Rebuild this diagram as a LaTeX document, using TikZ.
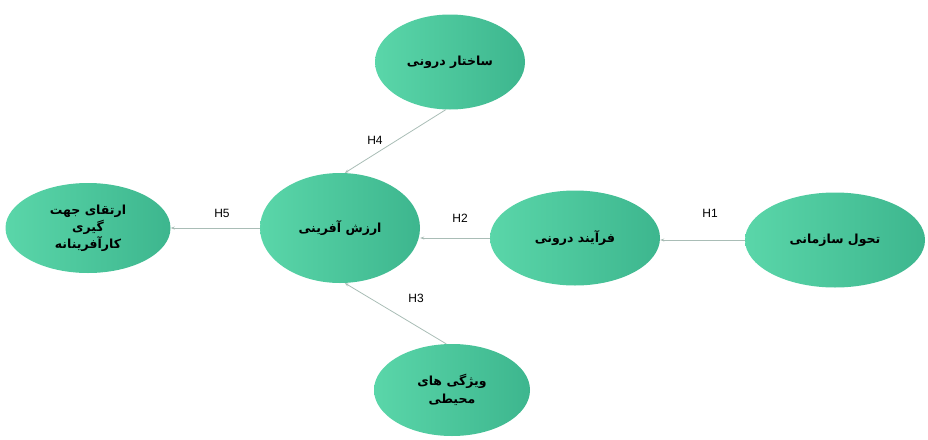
\documentclass[tikz,border=0pt]{standalone}
\usepackage{fontspec}
\TeXXeTstate=1
\newfontfamily\arabicfont[Script=Arabic]{DejaVu Sans}
\setsansfont{Liberation Sans}
\usetikzlibrary{shapes.geometric,arrows.meta}
\definecolor{eleft}{HTML}{5AD6A9}
\definecolor{eright}{HTML}{3DB68E}
\definecolor{lnk}{HTML}{A9BDB6}
\begin{document}
\begin{tikzpicture}[x=1pt,y=-1pt,
  oval/.style={ellipse,left color=eleft,right color=eright,draw=none,inner sep=0pt,
    minimum width=#1,align=center,font=\arabicfont\bfseries\fontsize{12.5}{17}\selectfont},
  link/.style={draw=lnk,line width=0.8pt,-{Stealth[length=4pt,width=3pt]}},
  hlab/.style={font=\sffamily\fontsize{12}{14}\selectfont}]
\useasboundingbox (0,0) rectangle (928,439);
\node[oval=165pt,minimum height=90pt] (goal) at (88,228) {\beginR ارتقای جهت\endR\\\beginR گیری\endR\\\beginR کارآفرینانه\endR};
\node[oval=160pt,minimum height=110pt] (val) at (340,228) {\beginR ارزش آفرینی\endR};
\node[oval=170pt,minimum height=95pt] (proc) at (575,238) {\beginR فرآیند درونی\endR};
\node[oval=180pt,minimum height=95pt] (trans) at (835,240) {\beginR تحول سازمانی\endR};
\node[oval=150pt,minimum height=95pt] (struct) at (450,62) {\beginR ساختار درونی\endR};
\node[oval=156pt,minimum height=92pt] (env) at (452,390) {\beginR ویژگی های\endR\\[1pt]\beginR محیطی\endR};
\draw[link] (val.west) -- (goal.east);
\draw[link] (proc.west) -- (val.east |- proc.west);
\draw[link] (trans.west) -- (proc.east |- trans.west);
\draw[link] (struct.-95) -- (val.85);
\draw[link] (env.97) -- (val.-85);
\node[hlab] (h5) at (222,213) {H5};
\node[hlab] (h2) at (460,218) {H2};
\node[hlab] (h1) at (710,213) {H1};
\node[hlab] (h4) at (375,140) {H4};
\node[hlab] (h3) at (416,298) {H3};
\end{tikzpicture}
\end{document}
